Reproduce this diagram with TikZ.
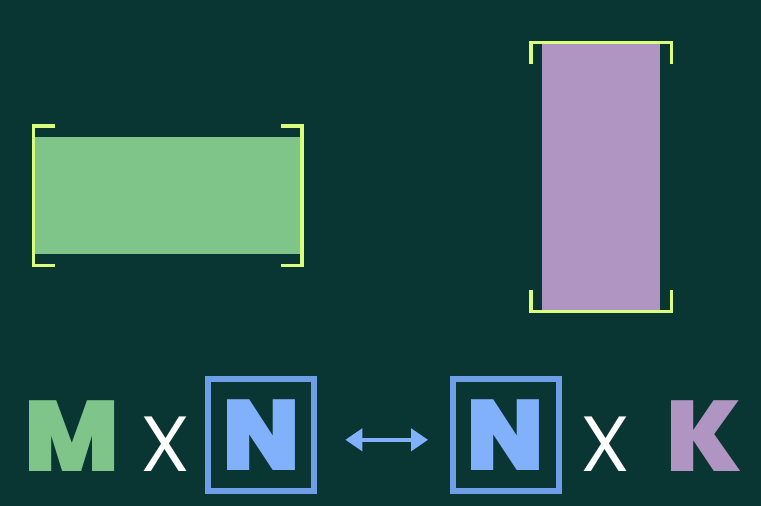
\documentclass[tikz,border=0pt]{standalone}
\usepackage{fontspec}
\setmainfont{Poppins}
\newfontfamily\heavyfont{Poppins Black}
\newfontfamily\lightfont{Poppins Light}
\usetikzlibrary{arrows.meta}
\definecolor{bg}{HTML}{093632}
\definecolor{brk}{HTML}{D9FF7C}
\definecolor{grn}{HTML}{7FC58A}
\definecolor{prp}{HTML}{B094C2}
\definecolor{nblue}{HTML}{80B1FA}
\definecolor{nedge}{HTML}{6E9FE6}
\begin{document}
\begin{tikzpicture}[x=1pt, y=1pt,
  bracket/.style={draw=brk, line width=3.5pt},
  block/.style={inner sep=0pt, outer sep=0pt},
  letter/.style={inner sep=0pt, anchor=base, font=\heavyfont\fontsize{100pt}{100pt}\selectfont},
  times/.style={inner sep=0pt, anchor=base, text=white, font=\lightfont\fontsize{100pt}{100pt}\selectfont},
  nbox/.style={draw=nedge, line width=6pt, minimum width=106.3pt, minimum height=112.3pt, inner sep=0pt, text=nblue, font=\heavyfont\fontsize{100pt}{100pt}\selectfont}]
\path[use as bounding box, fill=bg] (0,0) rectangle (761,506);

\path (167.8,310.3) node[block, fill=grn, minimum width=265.6pt, minimum height=117.3pt] (mat) {}
      (601.2,329) node[block, fill=prp, minimum width=117.7pt, minimum height=266pt] (kmat) {};

\draw[bracket] ([shift={(20pt,11pt)}]mat.north west) -| ([shift={(-1.5pt,-11pt)}]mat.south west) -- ++(21.5pt,0);
\draw[bracket] ([shift={(-20pt,11pt)}]mat.north east) -| ([shift={(1.5pt,-11pt)}]mat.south east) -- ++(-21.5pt,0);
\draw[bracket] ([shift={(-11.3pt,-20pt)}]kmat.north west) |- ([shift={(11.3pt,1.3pt)}]kmat.north east) -- ++(0,-21.3pt);
\draw[bracket] ([shift={(-11.3pt,20pt)}]kmat.south west) |- ([shift={(11.3pt,-1.7pt)}]kmat.south east) -- ++(0,21.3pt);

\path (72.5,34.3) node[letter, text=grn] (m) {M}
      (165,34.3) node[times] (x1) {x}
      (261.2,71.2) node[nbox] (n1) {N}
      (505.8,71.2) node[nbox] (n2) {N}
      (605,34.3) node[times] (x2) {x}
      (704,34.3) node[letter, text=prp] (k) {K};

\draw[nblue, line width=4pt, {Triangle[width=22pt,length=17pt]}-{Triangle[width=22pt,length=17pt]}] ([shift={(28pt,-5pt)}]n1.east) -- ([shift={(-21.6pt,-5pt)}]n2.west);
\end{tikzpicture}
\end{document}
